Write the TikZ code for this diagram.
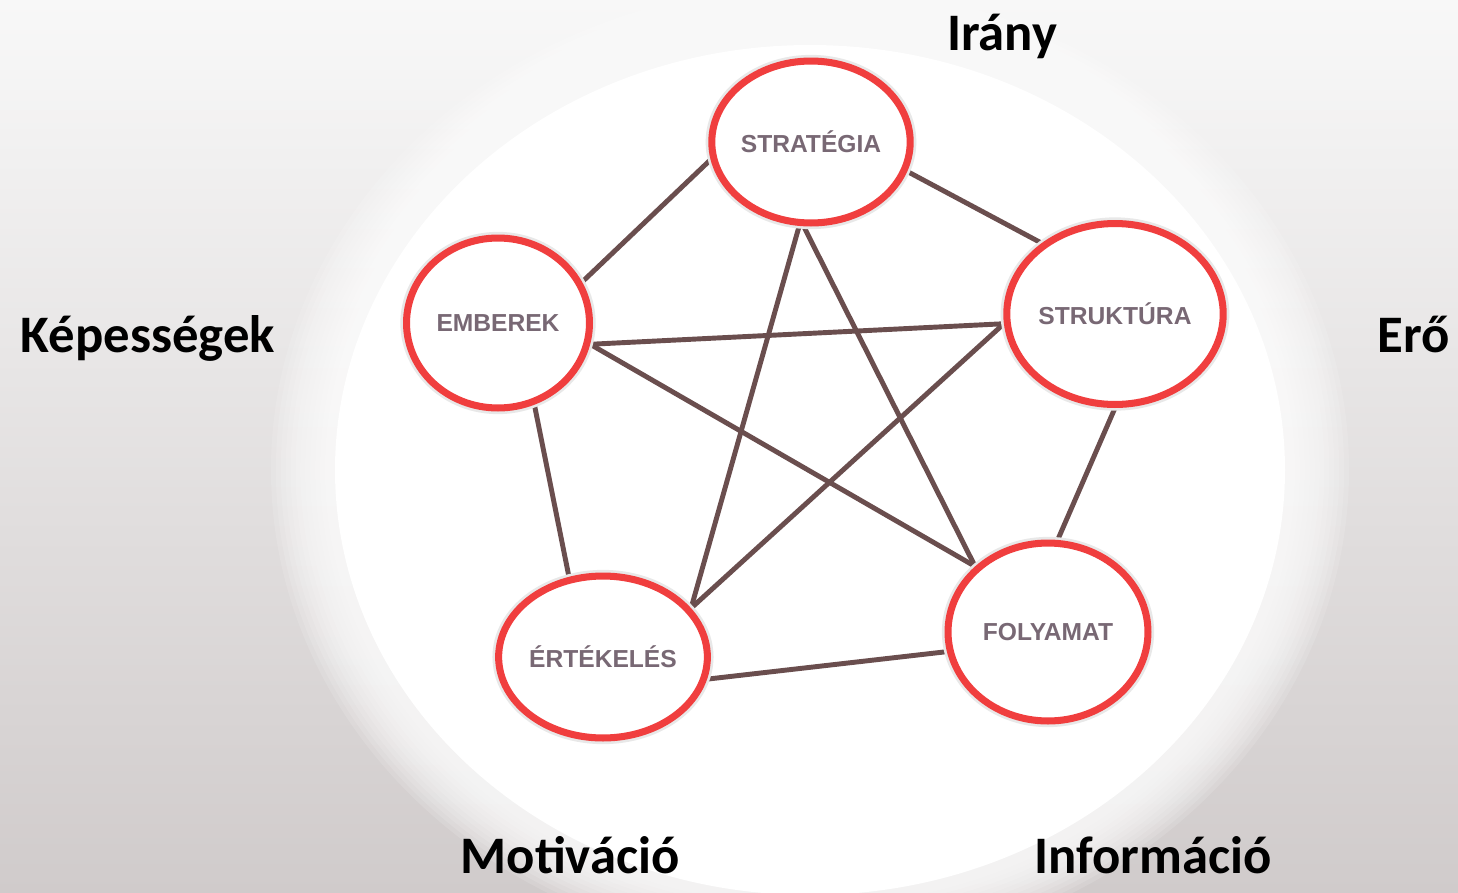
\documentclass[tikz,border=0pt]{standalone}
\usepackage{fontspec}
\setmainfont{Carlito}
\newfontfamily\elemfont{Liberation Sans}
\usetikzlibrary{shapes.geometric, backgrounds}
\definecolor{ringred}{RGB}{240,62,62}
\definecolor{linkbrown}{RGB}{106,78,78}
\definecolor{elemgray}{RGB}{120,104,116}
\definecolor{bgtop}{RGB}{248,248,248}
\definecolor{bgmid}{RGB}{242,241,241}
\definecolor{bgbot}{RGB}{208,203,203}
\tikzset{
  elem/.style={
    ellipse,
    draw=ringred,
    line width=4pt,
    fill=white,
    preaction={draw=black!9, line width=7pt},
    inner sep=0pt,
    text=elemgray,
    font=\elemfont\bfseries\fontsize{14}{16}\selectfont
    },
  side/.style={
    anchor=base,
    text=black,
    font=\bfseries\fontsize{30}{36}\selectfont
    },
  link/.style={draw=linkbrown, line width=2.8pt}
}

\begin{document}
\begin{tikzpicture}[x=0.02cm, y=-0.02cm]
\useasboundingbox (0,0) rectangle (1458,893);
% the five elements
\node (strat) [elem, minimum width=3.62cm, minimum height=3.24cm] at (811,142) {STRATÉGIA};
\node (emb)   [elem, minimum width=3.66cm, minimum height=3.40cm] at (498,323) {EMBEREK};
\node (struk) [elem, minimum width=3.78cm, minimum height=3.62cm] at (1115,314) {STRUKTÚRA};
\node (foly)  [elem, minimum width=4.00cm, minimum height=3.56cm] at (1048,632) {FOLYAMAT};
\node (ert)   [elem, minimum width=3.66cm, minimum height=3.24cm] at (603,657) {ÉRTÉKELÉS};
% outer words
\node (irany) [side] at (1002,50) {Irány};
\node (kep)   [side] at (148,352) {Képességek};
\node (ero)   [side] at (1414,352) {Erő};
\node (mot)   [side] at (570,873) {Motiváció};
\node (inf)   [side] at (1153,873) {Információ};
\begin{pgfonlayer}{background}
\shade[top color=bgtop, middle color=bgmid, bottom color=bgbot] (0,0) rectangle (1458,893);
\begin{scope}
\clip (0,0) rectangle (1458,893);
\foreach \s in {1.10,1.09,...,0.985}
  \fill[white, opacity=0.13] (810,470) ellipse [x radius=490*\s, y radius=440*\s];
\fill[white] (810,470) ellipse [x radius=475, y radius=425];
\end{scope}
\draw[link] (strat.190) -- (emb.26);
\draw[link] (strat.343) -- (struk.136);
\draw[link] (strat.262) -- (ert.29);
\draw[link] (strat.265) -- (foly.138);
\draw[link] (emb.347) -- (struk.185);
\draw[link] (emb.347) -- (foly.138);
\draw[link] (emb.294) -- (ert.113);
\draw[link] (struk.185) -- (ert.29);
\draw[link] (struk.270) -- (foly.84);
\draw[link] (ert.348) -- (foly.191);
\end{pgfonlayer}
\end{tikzpicture}
\end{document}
